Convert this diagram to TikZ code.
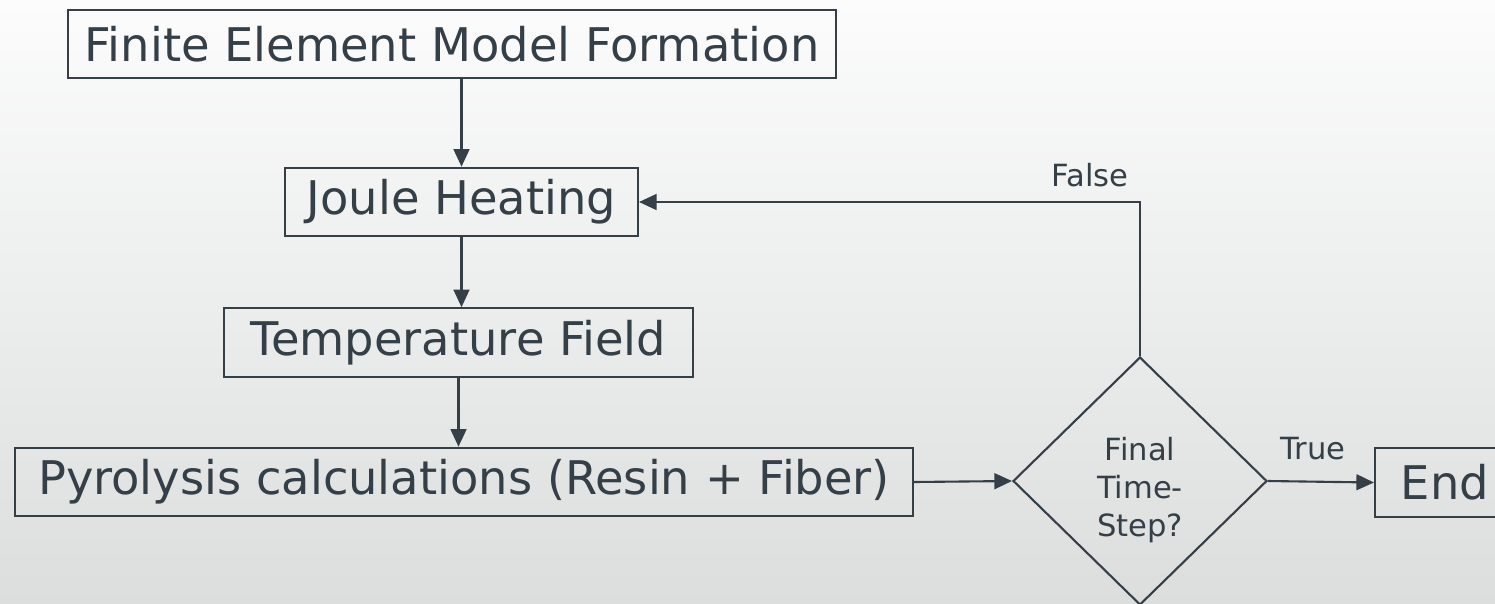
\documentclass[tikz,border=0pt]{standalone}
\usepackage{fontspec}
\setmainfont{DejaVu Sans}
\usetikzlibrary{shapes.geometric,arrows.meta}
\definecolor{ink}{HTML}{343F47}
\definecolor{bgtop}{HTML}{FCFCFC}
\definecolor{bgbot}{HTML}{DCDEDE}

\begin{document}
\begin{tikzpicture}[x=0.02cm,y=-0.02cm,
  box/.style={draw=ink,line width=1.2pt,text=ink,inner sep=0pt,minimum height=1.37cm,font=\fontsize{26.4}{30}\selectfont},
  decision/.style={draw=ink,line width=1.2pt,text=ink,diamond,inner sep=0pt,minimum width=5.08cm,minimum height=4.96cm,align=center,text height=66.4pt,font=\fontsize{17.4}{21.5}\selectfont},
  arr/.style={draw=ink,line width=1.2pt,-{Triangle[length=10pt,width=9pt]}},
  lbl/.style={text=ink,font=\fontsize{17.4}{21}\selectfont}]
		% background
		\useasboundingbox (0,0) rectangle (1495,603);
		\shade[top color=bgtop,bottom color=bgbot] (0,0) rectangle (1495,603);

		% solver steps
		\node[box,minimum width=15.36cm] (fem) at (452,44) {Finite Element Model Formation};
		\node[box,minimum width=7.06cm] (joule) at (461.5,202) {Joule Heating};
		\node[box,minimum width=9.38cm] (temp) at (458.5,342.5) {Temperature Field};
		\node[box,minimum width=17.96cm] (pyro) at (464,482) {Pyrolysis calculations (Resin + Fiber)};
		\node[decision] (final) at (1140,481) {Final\\Time-\\Step?};
		\node[box,minimum width=2.8cm] (end) at (1445,482.5) {End};

		\draw[arr] (joule.north |- fem.south) to (joule.north);
		\draw[arr] (joule.south) to (joule.south |- temp.north);
		\draw[arr] (temp.south) to (temp.south |- pyro.north);
		\draw[arr] (pyro.east) to (final.west);
		\draw[arr] (final.east) to (end.west);
		\draw[arr] (final.north) |- (joule.east);
		\node[lbl] (truelbl) at (1313,449) {True};
		\node[lbl] (falselbl) at (1090,175) {False};

\end{tikzpicture}
\end{document}
